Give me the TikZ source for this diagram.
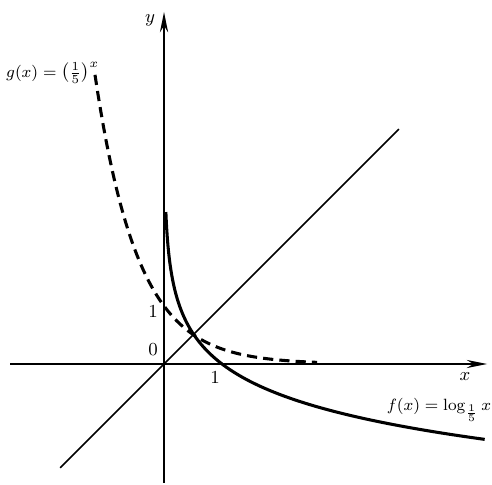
\documentclass[tikz,border=0pt]{standalone}
\usepackage{amsmath,amssymb}
\usepackage{tikz}
\usetikzlibrary{arrows.meta, positioning}

\begin{document}
\begin{tikzpicture}[
    axis/.style={line width=1pt, -{Stealth[length=10pt, width=4pt]}},
    diag/.style={line width=0.8pt},
    fcurve/.style={line width=1.5pt},
    gcurve/.style={line width=1.5pt, dash pattern=on 5pt off 3pt},
    lbl/.style={font=\small, inner sep=1pt},
    flbl/.style={font=\footnotesize, inner sep=1pt}
]
\useasboundingbox (-2.828,-2.086) rectangle (5.655,6.276);

\coordinate (O) at (0,0);
\coordinate (xl) at (-2.65,0);
\coordinate (xr) at (5.57,0);
\coordinate (yb) at (0,-2.05);
\coordinate (yt) at (0,6.07);
\coordinate (dl) at (-1.79,-1.79);
\coordinate (dr) at (4.05,4.05);

\draw[axis] (xl) -- (xr);
\draw[axis] (yb) -- (yt);
\draw[diag] (dl) -- (dr);

\draw[gcurve] plot[domain=-1.19:2.64, samples=80] (\x, {exp(-1.35*\x)});
\draw[fcurve] plot[domain=2.62:-1.30, samples=150] ({exp(-\x/0.76)}, \x);

\node[lbl] (ylab) at (-0.24,5.93) {$y$};
\node[lbl] (xlab) at (5.19,-0.22) {$x$};
\node[lbl] (zero) at (-0.19,0.24) {$0$};
\node[lbl] (oney) at (-0.19,0.90) {$1$};
\node[lbl] (onex) at (0.88,-0.24) {$1$};
\node[flbl] (glab) at (-1.92,5.02) {$g(x)=\left(\frac{1}{5}\right)^{x}$};
\node[flbl] (flab) at (4.74,-0.79) {$f(x)=\log_{\frac{1}{5}}x$};

\end{tikzpicture}
\end{document}
